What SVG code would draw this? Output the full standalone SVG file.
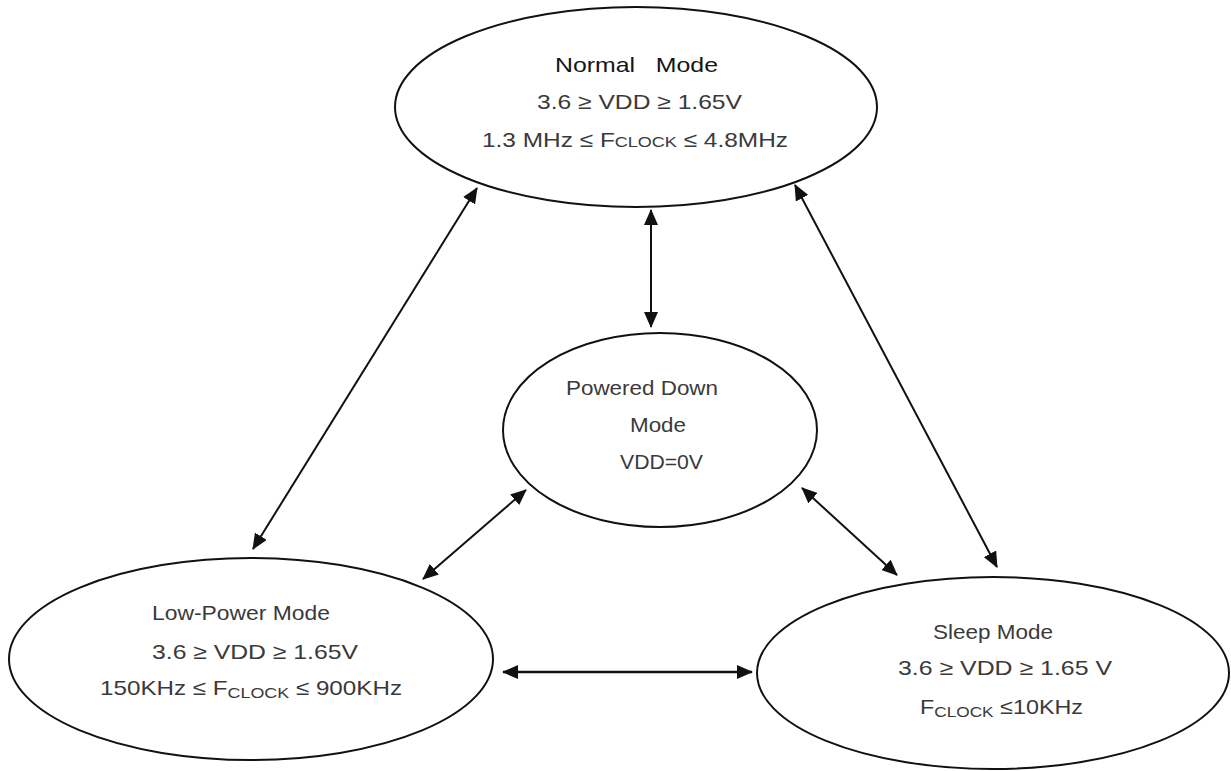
<svg xmlns="http://www.w3.org/2000/svg" width="1231" height="771" viewBox="0 0 1231 771">
<style>
.node ellipse{fill:#fff;stroke:#111;stroke-width:2}
.t{font-family:"Liberation Sans",Arial,sans-serif;font-size:21px;fill:#3a3a3a}
.tb{fill:#151515}
.sc{font-size:15.5px}
#connectors line{stroke:#111;stroke-width:2;marker-start:url(#ah);marker-end:url(#ah)}
</style>
<defs>
<marker id="ah" markerUnits="userSpaceOnUse" markerWidth="16" markerHeight="14" refX="15" refY="7" orient="auto-start-reverse" viewBox="0 0 16 14">
<path d="M0,0 L16,7 L0,14 z" fill="#111"/>
</marker>
</defs>
<rect width="1231" height="771" fill="#fff"/>
<g id="connectors">
<line x1="477" y1="188" x2="253" y2="549"/>
<line x1="651" y1="210" x2="651" y2="327"/>
<line x1="795" y1="185" x2="997" y2="567"/>
<line x1="526" y1="490" x2="423" y2="579"/>
<line x1="802" y1="488" x2="897" y2="575"/>
<line x1="503" y1="672" x2="752" y2="672" style="stroke-width:2.5"/>
</g>
<g id="normal" class="node">
<ellipse cx="636" cy="107" rx="241" ry="100"/>
<text class="t tb" x="555" y="72" textLength="163" lengthAdjust="spacingAndGlyphs">Normal&#160;&#160;&#160;Mode</text>
<text class="t" x="537" y="109" textLength="205" lengthAdjust="spacingAndGlyphs">3.6&#160;≥&#160;VDD&#160;≥&#160;1.65V</text>
<text class="t" x="482" y="147" textLength="306" lengthAdjust="spacingAndGlyphs">1.3 MHz&#160;≤&#160;F<tspan class="sc">CLOCK</tspan>&#160;≤&#160;4.8MHz</text>
</g>
<g id="powered-down" class="node">
<ellipse cx="660" cy="430" rx="157" ry="97"/>
<text class="t" x="566" y="395" textLength="152" lengthAdjust="spacingAndGlyphs">Powered Down</text>
<text class="t" x="630" y="432" textLength="56" lengthAdjust="spacingAndGlyphs">Mode</text>
<text class="t" x="620" y="469" textLength="83" lengthAdjust="spacingAndGlyphs">VDD=0V</text>
</g>
<g id="low-power" class="node">
<ellipse cx="251" cy="659" rx="242" ry="101"/>
<text class="t" x="152" y="620" textLength="178" lengthAdjust="spacingAndGlyphs">Low-Power Mode</text>
<text class="t" x="152" y="659" textLength="206" lengthAdjust="spacingAndGlyphs">3.6&#160;≥&#160;VDD&#160;≥&#160;1.65V</text>
<text class="t" x="100" y="695" textLength="302" lengthAdjust="spacingAndGlyphs">150KHz&#160;≤&#160;F<tspan class="sc" dy="3">CLOCK</tspan><tspan dy="-3">&#160;≤&#160;900KHz</tspan></text>
</g>
<g id="sleep" class="node">
<ellipse cx="993" cy="673" rx="236" ry="96"/>
<text class="t" x="933" y="639" textLength="120" lengthAdjust="spacingAndGlyphs">Sleep Mode</text>
<text class="t" x="898" y="675" textLength="214" lengthAdjust="spacingAndGlyphs">3.6&#160;≥&#160;VDD&#160;≥&#160;1.65 V</text>
<text class="t" x="920" y="714" textLength="163" lengthAdjust="spacingAndGlyphs">F<tspan class="sc" dy="3">CLOCK</tspan><tspan dy="-3">&#160;≤10KHz</tspan></text>
</g>
</svg>
